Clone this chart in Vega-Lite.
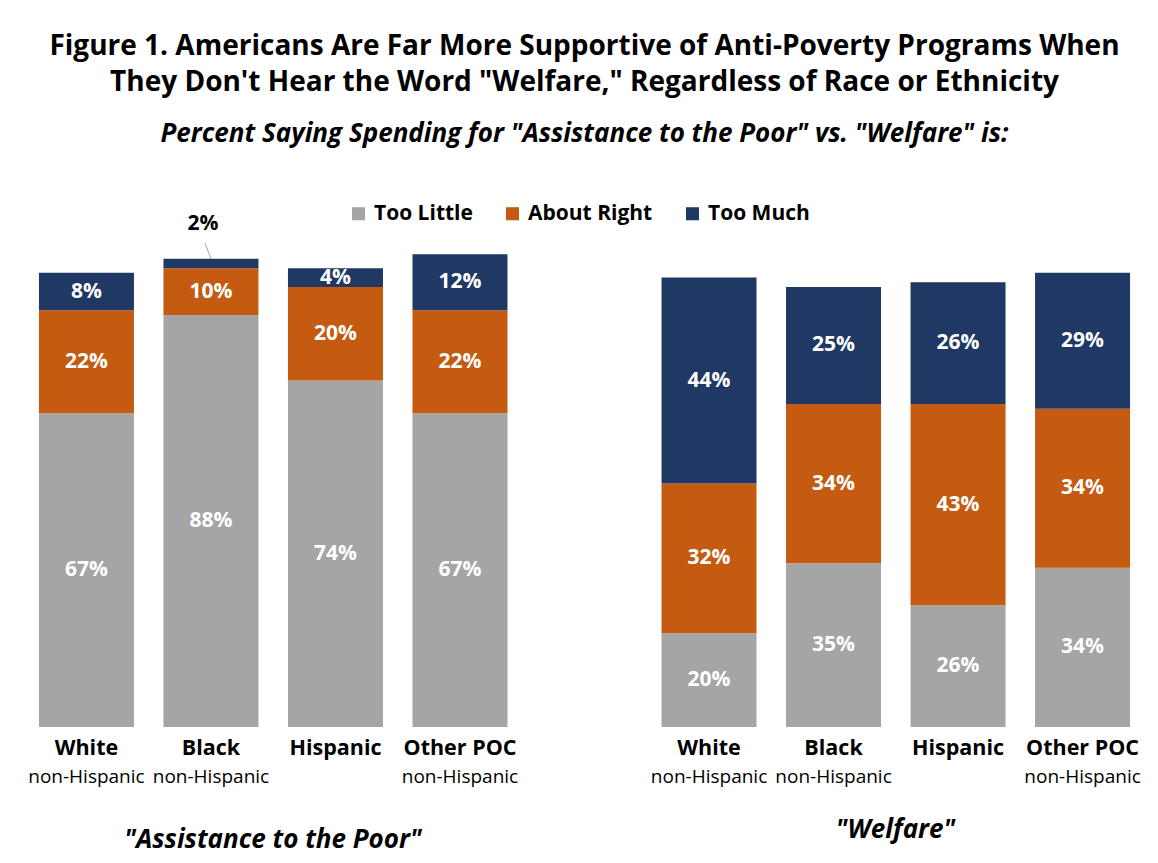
{
  "$schema": "https://vega.github.io/schema/vega-lite/v6.json",
  "width": 1158,
  "height": 863,
  "autosize": {"type": "fit", "contains": "padding"},
  "padding": {"left": 24, "top": 33, "right": 13, "bottom": 10},
  "background": "white",
  "datasets": {
    "d": [
      {"panel": "poor", "group": "White", "sub": "non-Hispanic", "cat": "Too Little", "k": 1, "value": 67},
      {"panel": "poor", "group": "White", "sub": "non-Hispanic", "cat": "About Right", "k": 2, "value": 22},
      {"panel": "poor", "group": "White", "sub": "non-Hispanic", "cat": "Too Much", "k": 3, "value": 8},
      {"panel": "poor", "group": "Black", "sub": "non-Hispanic", "cat": "Too Little", "k": 1, "value": 88},
      {"panel": "poor", "group": "Black", "sub": "non-Hispanic", "cat": "About Right", "k": 2, "value": 10},
      {"panel": "poor", "group": "Black", "sub": "non-Hispanic", "cat": "Too Much", "k": 3, "value": 2},
      {"panel": "poor", "group": "Hispanic", "sub": "", "cat": "Too Little", "k": 1, "value": 74},
      {"panel": "poor", "group": "Hispanic", "sub": "", "cat": "About Right", "k": 2, "value": 20},
      {"panel": "poor", "group": "Hispanic", "sub": "", "cat": "Too Much", "k": 3, "value": 4},
      {"panel": "poor", "group": "Other POC", "sub": "non-Hispanic", "cat": "Too Little", "k": 1, "value": 67},
      {"panel": "poor", "group": "Other POC", "sub": "non-Hispanic", "cat": "About Right", "k": 2, "value": 22},
      {"panel": "poor", "group": "Other POC", "sub": "non-Hispanic", "cat": "Too Much", "k": 3, "value": 12},
      {"panel": "welfare", "group": "White", "sub": "non-Hispanic", "cat": "Too Little", "k": 1, "value": 20},
      {"panel": "welfare", "group": "White", "sub": "non-Hispanic", "cat": "About Right", "k": 2, "value": 32},
      {"panel": "welfare", "group": "White", "sub": "non-Hispanic", "cat": "Too Much", "k": 3, "value": 44},
      {"panel": "welfare", "group": "Black", "sub": "non-Hispanic", "cat": "Too Little", "k": 1, "value": 35},
      {"panel": "welfare", "group": "Black", "sub": "non-Hispanic", "cat": "About Right", "k": 2, "value": 34},
      {"panel": "welfare", "group": "Black", "sub": "non-Hispanic", "cat": "Too Much", "k": 3, "value": 25},
      {"panel": "welfare", "group": "Hispanic", "sub": "", "cat": "Too Little", "k": 1, "value": 26},
      {"panel": "welfare", "group": "Hispanic", "sub": "", "cat": "About Right", "k": 2, "value": 43},
      {"panel": "welfare", "group": "Hispanic", "sub": "", "cat": "Too Much", "k": 3, "value": 26},
      {"panel": "welfare", "group": "Other POC", "sub": "non-Hispanic", "cat": "Too Little", "k": 1, "value": 34},
      {"panel": "welfare", "group": "Other POC", "sub": "non-Hispanic", "cat": "About Right", "k": 2, "value": 34},
      {"panel": "welfare", "group": "Other POC", "sub": "non-Hispanic", "cat": "Too Much", "k": 3, "value": 29}
    ],
    "t": [
      {"panel": "poor", "caption": "\"Assistance to the Poor\""},
      {"panel": "welfare", "caption": "\"Welfare\""}
    ]
  },
  "data": {"name": "d"},
  "transform": [
    {"calculate": "datum.panel + ':' + datum.group", "as": "xkey"},
    {"stack": "value", "groupby": ["xkey"], "sort": [{"field": "k", "order": "ascending"}], "as": ["v0", "v1"]},
    {"calculate": "(datum.v0 + datum.v1) / 2", "as": "mid"},
    {"calculate": "datum.value + '%'", "as": "lbl"}
  ],
  "title": {
    "text": ["Figure 1. Americans Are Far More Supportive of Anti-Poverty Programs When", "They Don't Hear the Word \"Welfare,\" Regardless of Race or Ethnicity"],
    "subtitle": "Percent Saying Spending for \"Assistance to the Poor\" vs. \"Welfare\" is:",
    "anchor": "middle",
    "fontSize": 28,
    "fontWeight": "bold",
    "lineHeight": 36,
    "color": "#000000",
    "subtitleFontSize": 26,
    "subtitleFontStyle": "italic",
    "subtitleFontWeight": "bold",
    "subtitleColor": "#000000",
    "subtitlePadding": 24,
    "offset": 65
  },
  "encoding": {
    "x": {
      "field": "xkey", "type": "nominal",
      "scale": {
        "domain": ["poor:White", "poor:Black", "poor:Hispanic", "poor:Other POC", "gap", "welfare:White", "welfare:Black", "welfare:Hispanic", "welfare:Other POC"],
        "paddingInner": 0.237, "paddingOuter": 0.12
      },
      "axis": {"title": null, "labelAngle": 0, "labelExpr": "datum.value == 'gap' ? '' : split(datum.value, ':')[1]", "labelFontSize": 21.5, "labelFontWeight": "bold", "labelColor": "#000000", "ticks": false, "domain": false, "grid": false, "labelPadding": 10}
    }
  },
  "layer": [
    {
      "mark": {"type": "bar"},
      "encoding": {
        "y": {"field": "v0", "type": "quantitative", "scale": {"domain": [0, 101]}, "axis": null},
        "y2": {"field": "v1"},
        "color": {
          "field": "cat", "type": "nominal",
          "scale": {"domain": ["Too Little", "About Right", "Too Much"], "range": ["#A5A5A5", "#C55A11", "#203864"]},
          "legend": {"title": null, "orient": "none", "direction": "horizontal", "legendX": 324, "legendY": -9, "symbolType": "square", "symbolSize": 170, "symbolStrokeWidth": 0, "labelFontSize": 21, "labelFontWeight": "bold", "labelColor": "#000000", "columnPadding": 29, "labelOffset": 5}
        }
      }
    },
    {
      "transform": [{"filter": "datum.value >= 3"}],
      "mark": {"type": "text", "color": "white", "fontWeight": "bold", "fontSize": 21},
      "encoding": {"y": {"field": "mid", "type": "quantitative", "axis": null}, "text": {"field": "lbl"}}
    },
    {
      "transform": [{"filter": "datum.value < 3"}],
      "mark": {"type": "text", "color": "#000000", "fontWeight": "bold", "fontSize": 21, "dy": -35, "dx": -8},
      "encoding": {"y": {"field": "v1", "type": "quantitative", "axis": null}, "text": {"field": "lbl"}}
    },
    {
      "transform": [{"filter": "datum.value < 3"}],
      "mark": {"type": "rule", "color": "#A6A6A6", "strokeWidth": 1, "y2Offset": -16, "x2Offset": -6},
      "encoding": {"y": {"field": "v1", "type": "quantitative", "axis": null}, "y2": {"field": "v1"}, "x2": {"field": "xkey"}}
    },
    {
      "transform": [{"filter": "datum.k === 1"}],
      "mark": {"type": "text", "dy": 50, "fontSize": 19, "color": "#000000"},
      "encoding": {"y": {"datum": 0, "type": "quantitative", "axis": null}, "text": {"field": "sub"}}
    },
    {
      "data": {"name": "t"},
      "transform": [
        {"filter": "datum.panel === 'poor'"},
        {"calculate": "datum.panel + ':Black'", "as": "xkey"}
      ],
      "mark": {"type": "text", "dy": 113, "dx": 62, "fontSize": 26, "fontStyle": "italic", "fontWeight": "bold", "color": "#000000"},
      "encoding": {"y": {"datum": 0, "type": "quantitative", "axis": null}, "text": {"field": "caption"}}
    },
    {
      "data": {"name": "t"},
      "transform": [
        {"filter": "datum.panel === 'welfare'"},
        {"calculate": "datum.panel + ':Black'", "as": "xkey"}
      ],
      "mark": {"type": "text", "dy": 103, "dx": 62, "fontSize": 26, "fontStyle": "italic", "fontWeight": "bold", "color": "#000000"},
      "encoding": {"y": {"datum": 0, "type": "quantitative", "axis": null}, "text": {"field": "caption"}}
    }
  ],
  "config": {
    "font": "Open Sans",
    "view": {"stroke": null}
  }
}
